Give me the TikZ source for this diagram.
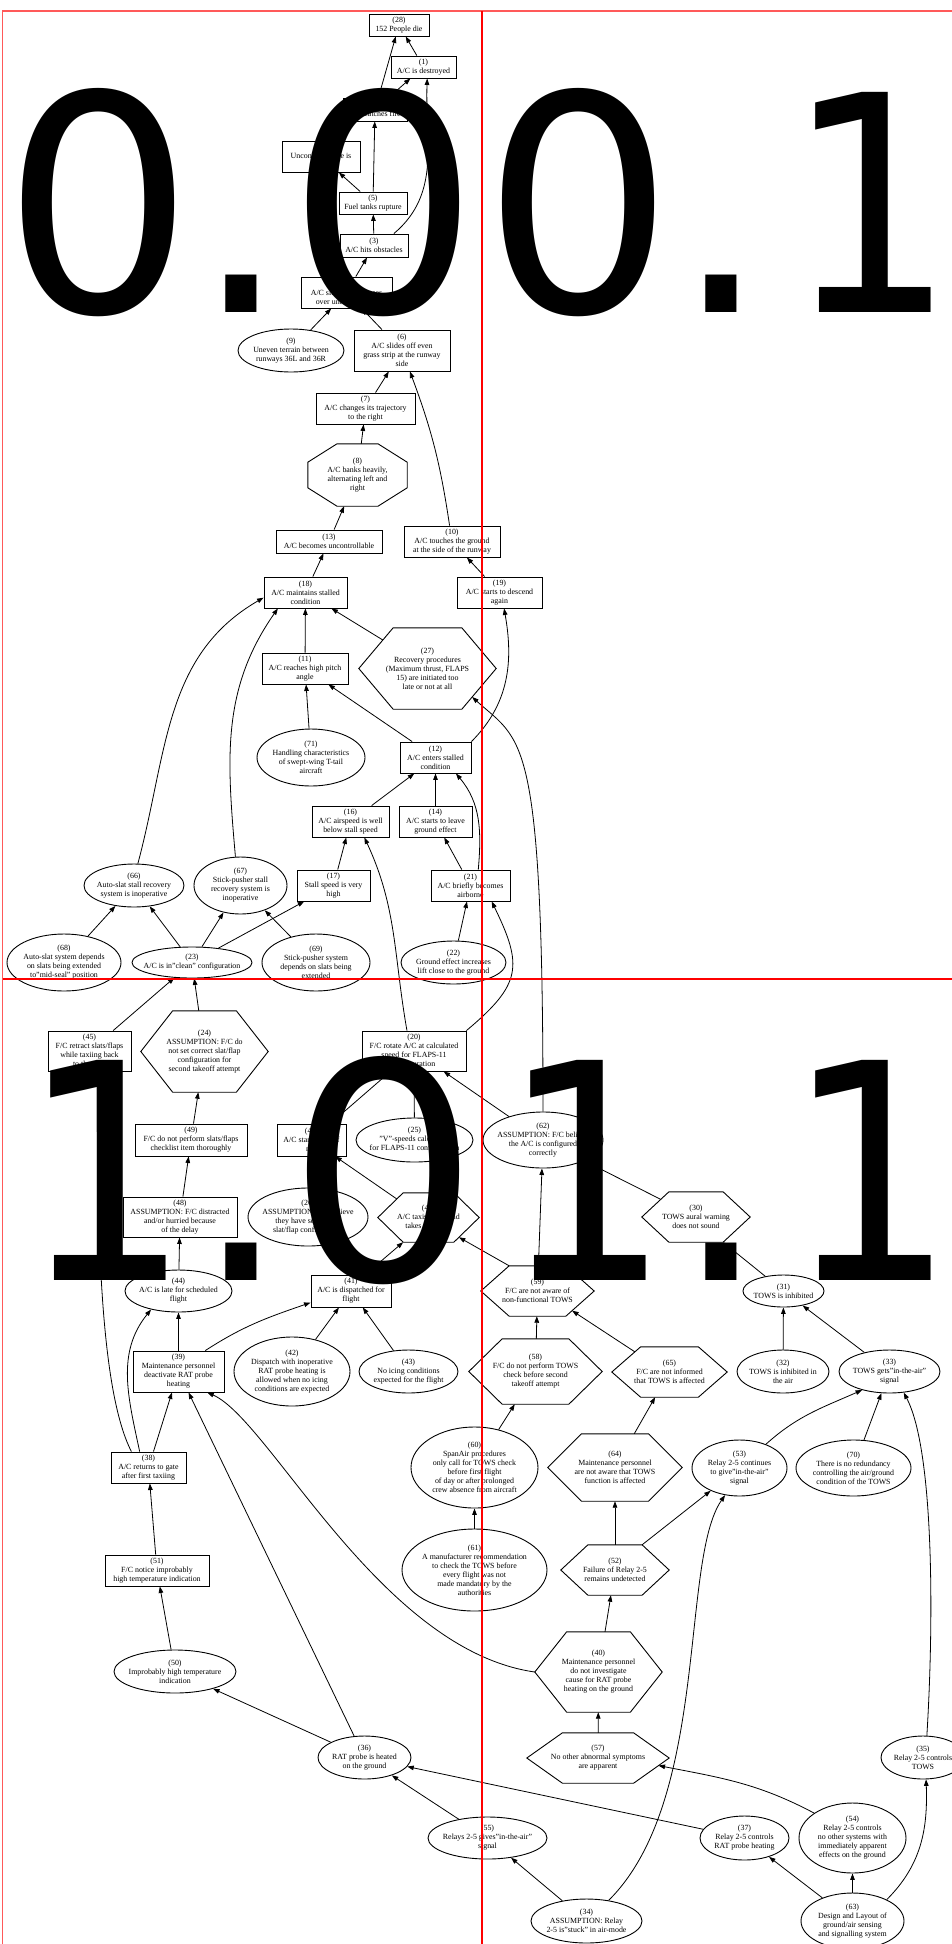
\documentclass[tikz,border=0pt]{standalone}
\usepackage{fontspec}
\usepackage{graphicx}
\setmainfont{Liberation Serif}
\newfontfamily\tilefont{DejaVu Sans}
\usetikzlibrary{shapes.geometric,arrows.meta,calc}

\newcommand{\evfont}{\fontsize{7.9}{9}\selectfont}
\newcommand{\narrowone}{\scalebox{0.88}[1]{1}}

% hexagonal event: name, x, y, width, height, text
\newcommand{\hexev}[6]{%
  \node[hexbody, minimum width=#4, minimum height=#5] (#1) at (#2,#3) {#6};
  \draw[rim] (#1.west)
    -- ($(#1.north west)!.25!(#1.north east)$) coordinate (#1-nw)
    -- ($(#1.north west)!.75!(#1.north east)$) coordinate (#1-ne)
    -- (#1.east)
    -- ($(#1.south west)!.75!(#1.south east)$) coordinate (#1-se)
    -- ($(#1.south west)!.25!(#1.south east)$) coordinate (#1-sw)
    -- cycle;}

\begin{document}
\begin{tikzpicture}[
  x=1pt, y=1pt,
  evbox/.style={rectangle, draw, line width=0.9pt, inner sep=-20pt,
    align=center, font=\evfont},
  evoval/.style={ellipse, draw, line width=0.9pt, inner sep=-20pt,
    align=center, font=\evfont},
  hexbody/.style={rectangle, inner sep=-20pt, align=center, font=\evfont},
  rim/.style={line width=0.9pt, line join=miter},
  cause/.style={-{Triangle[length=6.5pt,width=4.6pt]}, line width=0.8pt},
  tileglyph/.style={font=\tilefont\fontsize{302}{302}\selectfont,
    inner sep=0pt, anchor=base},
  cutline/.style={red, line width=1.2pt}
]
\useasboundingbox (0,0) rectangle (952,-1944);

% Crash sequence
\node[evbox, minimum width=60, minimum height=22] (n28) at (399,-25) {(28)\\152 People die};
\node[evbox, minimum width=65, minimum height=22] (n1) at (423.5,-67) {(1)\\A/C is destroyed};
\node[evbox, minimum width=64, minimum height=23] (n2) at (375,-109.5) {(2)\\A/C catches fire};
\node[evbox, minimum width=78, minimum height=31] (n4) at (321,-156.5) {(4)\\Uncontained fire is\\ignited};
\node[evbox, minimum width=68, minimum height=22] (n5) at (373,-203) {(5)\\Fuel tanks rupture};
\node[evbox, minimum width=68, minimum height=23] (n3) at (374,-245.5) {(3)\\A/C hits obstacles};
\node[evbox, minimum width=91, minimum height=31] (n15) at (346.5,-292.5) {(15)\\A/C slides and crosses\\over uneven terrain};
\node[evoval, minimum width=106, minimum height=43] (n9) at (291,-350.5) {(9)\\Uneven terrain between\\runways 36L and 36R};
\node[evbox, minimum width=96, minimum height=41] (n6) at (402,-350.5) {(6)\\A/C slides off even\\grass strip at the runway\\side};
\node[evbox, minimum width=99, minimum height=31] (n7) at (365.5,-408.5) {(7)\\A/C changes its trajectory\\to the right};
\node[hexbody, minimum width=99, minimum height=62] (n8) at (357.5,-475) {(8)\\A/C banks heavily,\\alternating left and\\right};
\draw[rim] ($(n8.west)+(0,12.8)$) -- ($(n8.north)+(-20.5,0)$) -- ($(n8.north)+(20.5,0)$)
  -- ($(n8.east)+(0,12.8)$) -- ($(n8.east)+(0,-12.8)$) -- ($(n8.south)+(20.5,0)$)
  -- ($(n8.south)+(-20.5,0)$) -- ($(n8.west)+(0,-12.8)$) -- cycle;
\node[evbox, minimum width=106, minimum height=23] (n13) at (329,-541.5) {(13)\\A/C becomes uncontrollable};
\node[evbox, minimum width=96, minimum height=31] (n10) at (452,-541.5) {(10)\\A/C touches the ground\\at the side of the runway};

% Stall
\node[evbox, minimum width=83, minimum height=31] (n18) at (305.5,-592.5) {(18)\\A/C maintains stalled\\condition};
\node[evbox, minimum width=85, minimum height=31] (n19) at (499.5,-592.5) {(19)\\A/C starts to descend\\again};
\node[evbox, minimum width=86, minimum height=31] (n11) at (305,-668.5) {(11)\\A/C reaches high pitch\\angle};
\hexev{n27}{427.5}{-668.5}{137}{81}{(27)\\Recovery procedures\\(Maximum thrust, FLAPS\\15) are initiated too\\late or not at all}
\node[evoval, minimum width=108, minimum height=57] (n71) at (311,-757.5) {(71)\\Handling characteristics\\of swept-wing T-tail\\aircraft};
\node[evbox, minimum width=71, minimum height=31] (n12) at (435.5,-757.5) {(12)\\A/C enters stalled\\condition};
\node[evbox, minimum width=77, minimum height=31] (n16) at (350.5,-821.5) {(16)\\A/C airspeed is well\\below stall speed};
\node[evbox, minimum width=73, minimum height=31] (n14) at (435.5,-821.5) {(14)\\A/C starts to leave\\ground effect};
\node[evoval, minimum width=100, minimum height=43] (n66) at (134,-885.5) {(66)\\Auto-slat stall recovery\\system is inoperative};
\node[evoval, minimum width=93, minimum height=57] (n67) at (240.5,-885.5) {(67)\\Stick-pusher stall\\recovery system is\\inoperative};
\node[evbox, minimum width=73, minimum height=31] (n17) at (333.5,-885.5) {(17)\\Stall speed is very\\high};
\node[evbox, minimum width=79, minimum height=31] (n21) at (470.5,-885.5) {(21)\\A/C briefly becomes\\airborne};
\node[evoval, minimum width=114, minimum height=57] (n68) at (64,-962.5) {(68)\\Auto-slat system depends\\on slats being extended\\to"mid-seal" position};
\node[evoval, minimum width=120, minimum height=31] (n23) at (192,-962.5) {(23)\\A/C is in"clean" configuration};
\node[evoval, minimum width=108, minimum height=57] (n69) at (316,-962.5) {(69)\\Stick-pusher system\\depends on slats being\\extended};
\node[evoval, minimum width=105, minimum height=43] (n22) at (453.5,-962.5) {(22)\\Ground effect increases\\lift close to the ground};

% Configuration and takeoff
\node[evbox, minimum width=83, minimum height=40] (n45) at (89.5,-1051) {(45)\\F/C retract slats/flaps\\while taxiing back\\to the gate};
\hexev{n24}{204.5}{-1051.5}{127}{81}{(24)\\ASSUMPTION: F/C do\\not set correct slat/flap\\configuration for\\second takeoff attempt}
\node[evbox, minimum width=104, minimum height=40] (n20) at (414,-1051) {(20)\\F/C rotate A/C at calculated\\speed for FLAPS-11\\configuration};
\node[evbox, minimum width=112, minimum height=32] (n49) at (191,-1140) {(49)\\F/C do not perform slats/flaps\\checklist item thoroughly};
\node[evbox, minimum width=69, minimum height=32] (n46) at (311.5,-1140) {(46)\\A/C starts takeoff\\run};
\node[evoval, minimum width=117, minimum height=44] (n25) at (414.5,-1140) {(25)\\"V"-speeds calculated\\for FLAPS-11 configuration};
\node[evoval, minimum width=120, minimum height=56] (n62) at (543,-1140) {(62)\\ASSUMPTION: F/C believe\\the A/C is configured\\correctly};
\node[evbox, minimum width=114, minimum height=40] (n48) at (180,-1217) {(48)\\ASSUMPTION: F/C distracted\\and/or hurried because\\of the delay};
\node[evoval, minimum width=120, minimum height=58] (n26) at (308,-1217) {(26)\\ASSUMPTION: F/C believe\\they have set correct\\slat/flap configuration};
\hexev{n47}{428.5}{-1217.5}{101}{49}{(47)\\A/C taxis again and\\takes off again}
\hexev{n30}{696}{-1217}{108}{50}{(30)\\TOWS aural warning\\does not sound}

% Dispatch
\node[evoval, minimum width=107, minimum height=42] (n44) at (178.5,-1291) {(44)\\A/C is late for scheduled\\flight};
\node[evbox, minimum width=80, minimum height=32] (n41) at (351,-1291) {(41)\\A/C is dispatched for\\flight};
\hexev{n59}{537.5}{-1291}{113}{50}{(59)\\F/C are not aware of\\non-functional TOWS}
\node[evoval, minimum width=81, minimum height=32] (n31) at (783.5,-1291) {(31)\\TOWS is inhibited};
\node[evbox, minimum width=91, minimum height=41] (n39) at (178.5,-1371.5) {(39)\\Maintenance personnel\\deactivate RAT probe\\heating};
\node[evoval, minimum width=116, minimum height=69] (n42) at (292,-1371.5) {(42)\\Dispatch with inoperative\\RAT probe heating is\\allowed when no icing\\conditions are expected};
\node[evoval, minimum width=99, minimum height=43] (n43) at (408.5,-1371.5) {(43)\\No icing conditions\\expected for the flight};
\hexev{n58}{535.5}{-1371.5}{133}{65}{(58)\\F/C do not perform TOWS\\check before second\\takeoff attempt}
\hexev{n65}{669.5}{-1372}{115}{50}{(65)\\F/C are not informed\\that TOWS is affected}
\node[evoval, minimum width=92, minimum height=43] (n32) at (783,-1371.5) {(32)\\TOWS is inhibited in\\the air};
\node[evoval, minimum width=101, minimum height=43] (n33) at (889.5,-1371.5) {(33)\\TOWS gets"in-the-air"\\signal};
\node[evbox, minimum width=75, minimum height=31] (n38) at (148.5,-1467.5) {(38)\\A/C returns to gate\\after first taxiing};
\node[evoval, minimum width=127, minimum height=81] (n60) at (474.5,-1467.5) {(60)\\SpanAir procedures\\only call for TOWS check\\before first flight\\of day or after prolonged\\crew absence from aircraft};
\hexev{n64}{615}{-1467.5}{134}{67}{(64)\\Maintenance personnel\\are not aware that TOWS\\function is affected}
\node[evoval, minimum width=95, minimum height=56] (n53) at (739.5,-1468) {(53)\\Relay 2-5 continues\\to give"in-the-air"\\signal};
\node[evoval, minimum width=115, minimum height=56] (n70) at (853.5,-1468) {(70)\\There is no redundancy\\controlling the air/ground\\condition of the TOWS};
\node[evbox, minimum width=104, minimum height=31] (n51) at (157,-1570.5) {(51)\\F/C notice improbably\\high temperature indication};
\node[evoval, minimum width=145, minimum height=82] (n61) at (474.5,-1570) {(61)\\A manufacturer recommendation\\to check the TOWS before\\every flight was not\\made mandatory by the\\authorities};
\hexev{n52}{615}{-1570}{108}{50}{(52)\\Failure of Relay 2-5\\remains undetected}

% Relay 2-5
\node[evoval, minimum width=122, minimum height=43] (n50) at (175,-1671.5) {(50)\\Improbably high temperature\\indication};
\hexev{n40}{598.5}{-1672}{127}{80}{(40)\\Maintenance personnel\\do not investigate\\cause for RAT probe\\heating on the ground}
\node[evoval, minimum width=93, minimum height=43] (n36) at (364.5,-1757.5) {(36)\\RAT probe is heated\\on the ground};
\hexev{n57}{598}{-1758}{142}{50}{(57)\\No other abnormal symptoms\\are apparent}
\node[evoval, minimum width=84, minimum height=43] (n35) at (923,-1757.5) {(35)\\Relay 2-5 controls\\TOWS};
\node[evoval, minimum width=119, minimum height=42] (n55) at (487.5,-1838) {(55)\\Relays 2-5 gives"in-the-air"\\signal};
\node[evoval, minimum width=89, minimum height=44] (n37) at (744.5,-1838) {(37)\\Relay 2-5 controls\\RAT probe heating};
\node[evoval, minimum width=107, minimum height=70] (n54) at (852.5,-1838) {(54)\\Relay 2-5 controls\\no other systems with\\immediately apparent\\effects on the ground};
\node[evoval, minimum width=111, minimum height=44] (n34) at (586.5,-1921) {(34)\\ASSUMPTION: Relay\\2-5 is"stuck" in air-mode};
\node[evoval, minimum width=103, minimum height=56] (n63) at (852.5,-1921) {(63)\\Design and Layout of\\ground/air sensing\\and signalling system};

% Causal links, upper part
\draw[cause] (n2) -- (n28);
\draw[cause] (n1) -- (n28);
\draw[cause] (n2) -- (n1);
\draw[cause] (n3.31) to[out=40,in=-92] (n1.-72);
\draw[cause] (n5) -- (n2);
\draw[cause] (n5) -- (n4);
\draw[cause] (n3) -- (n5);
\draw[cause] (n15) -- (n3);
\draw[cause] (n9) -- (n15);
\draw[cause] (n6) -- (n15);
\draw[cause] (n7) -- (n6);
\draw[cause] (n10) to[bend right=6] (n6);
\draw[cause] (n8) -- (n7);
\draw[cause] (n13) -- (n8);
\draw[cause] (n18) -- (n13);
\draw[cause] (n19) -- (n10);
\draw[cause] (n66.80) to[out=75,in=-150] (n18.187);
\draw[cause] (n67.100) to[out=95,in=-125] (n18.210);
\draw[cause] (n11) -- (n18);
\draw[cause] ($(n27.west)!.7!(n27-nw)$) -- (n18);
\draw[cause] (n62.north) .. controls (543,-730) and (522,-742) .. ($(n27.east)!.7!(n27-se)$);
\draw[cause] (n12.north east) to[out=45,in=-80] (n19.-74);
\draw[cause] (n71) -- (n11);
\draw[cause] (n12) -- (n11);
\draw[cause] (n16) -- (n12);
\draw[cause] (n14) -- (n12);
\draw[cause] (n21.64) to[out=85,in=-50] (n12.-38);
\draw[cause] (n17) -- (n16);
\draw[cause] (n20.109) to[out=100,in=-65] (n16.-49);
\draw[cause] (n21) -- (n14);
\draw[cause] (n22) -- (n21);
\draw[cause] (n20.north east) to[out=40,in=-64,looseness=1.4] (n21.-37);

% Causal links, configuration
\draw[cause] (n23) -- (n66);
\draw[cause] (n68) -- (n66);
\draw[cause] (n23) -- (n67);
\draw[cause] (n69) -- (n67);
\draw[cause] (n23) -- (n17);
\draw[cause] (n45) -- (n23);
\draw[cause] (n24) -- (n23);
\draw[cause] (n49) -- (n24);
\draw[cause] (n48) -- (n49);
\draw[cause] (n44) -- (n48);
\draw[cause] (n25) -- (n20);
\draw[cause] (n46) -- (n20);
\draw[cause] (n62) -- (n20);
\draw[cause] ($(n47.west)!.75!(n47-nw)$) -- (n46);
\draw[cause] (n59-nw) -- ($(n47.east)!.8!(n47-se)$);
\draw[cause] (n41.49) -- (n47-sw);
\draw[cause] ($(n30.west)!.7!(n30-nw)$) -- (n62);
\draw[cause] (n31) -- (n30-se);
\draw[cause] (n59) -- (n62);

% Causal links, dispatch and maintenance
\draw[cause] (n39) -- (n44);
\draw[cause] (n39.38) to[out=33,in=199] (n41.196);
\draw[cause] (n42) -- (n41);
\draw[cause] (n43) -- (n41);
\draw[cause] (n38.119) to[out=102,in=-129] (n44.214);
\draw[cause] (n38.137) .. controls (100,-1390) and (97,-1230) .. (n45.-69);
\draw[cause] (n38) -- (n39);
\draw[cause] (n51) -- (n38);
\draw[cause] (n36) -- (n39);
\draw[cause] (n40.west) .. controls (380,-1650) and (270,-1420) .. (n39.-36);
\draw[cause] (n50) -- (n51);
\draw[cause] (n36) -- (n50);
\draw[cause] (n55) -- (n36);
\draw[cause] (n37) -- (n36);
\draw[cause] (n34) -- (n55);
\draw[cause] (n34.43) .. controls (710,-1800) and (680,-1560) .. (n53.-118);
\draw[cause] (n57) -- (n40);
\draw[cause] (n40) -- (n52);
\draw[cause] (n54.147) to[out=152,in=-11] ($(n57.east)!.3!(n57-se)$);
\draw[cause] (n63) -- (n37);
\draw[cause] (n63) -- (n54);
\draw[cause] (n63.32) to[out=45,in=-88] (n35.-82);
\draw[cause] (n35.80) .. controls (934,-1620) and (934,-1450) .. (n33.-56);

% Causal links, TOWS
\draw[cause] (n52) -- (n64);
\draw[cause] (n52-ne) -- (n53);
\draw[cause] (n64) -- (n65);
\draw[cause] (n60) -- (n58);
\draw[cause] (n61) -- (n60);
\draw[cause] (n58) -- (n59);
\draw[cause] ($(n65.west)!.8!(n65-nw)$) -- ($(n59.east)!.78!(n59-se)$);
\draw[cause] (n32) -- (n31);
\draw[cause] (n33) -- (n31);
\draw[cause] (n53.42) to[out=42,in=-156] (n33.-146);
\draw[cause] (n70) -- (n33);

% Page tile numbers, one glyph at a time
\node[tileglyph] (p00a) at (99,-312.5) {0};
\node[tileglyph] (p00b) at (241,-312.5) {.};
\node[tileglyph] (p00c) at (384,-312.5) {0};
\node[tileglyph] (p01a) at (578.5,-312.5) {0};
\node[tileglyph] (p01b) at (721,-312.5) {.};
\node[tileglyph] (p01c) at (871.5,-312.5) {\narrowone};
\node[tileglyph] (p10a) at (106.5,-1280.5) {\narrowone};
\node[tileglyph] (p10b) at (241,-1280.5) {.};
\node[tileglyph] (p10c) at (384,-1280.5) {0};
\node[tileglyph] (p11a) at (586,-1280.5) {\narrowone};
\node[tileglyph] (p11b) at (721,-1280.5) {.};
\node[tileglyph] (p11c) at (871.5,-1280.5) {\narrowone};

% Cut lines between tiles
\draw[cutline, red!65] (2.7,-1944) -- (2.7,-11) -- (952,-11);
\draw[cutline] (482,-11) -- (482,-1944);
\draw[cutline] (2.7,-979) -- (952,-979);

\end{tikzpicture}
\end{document}
